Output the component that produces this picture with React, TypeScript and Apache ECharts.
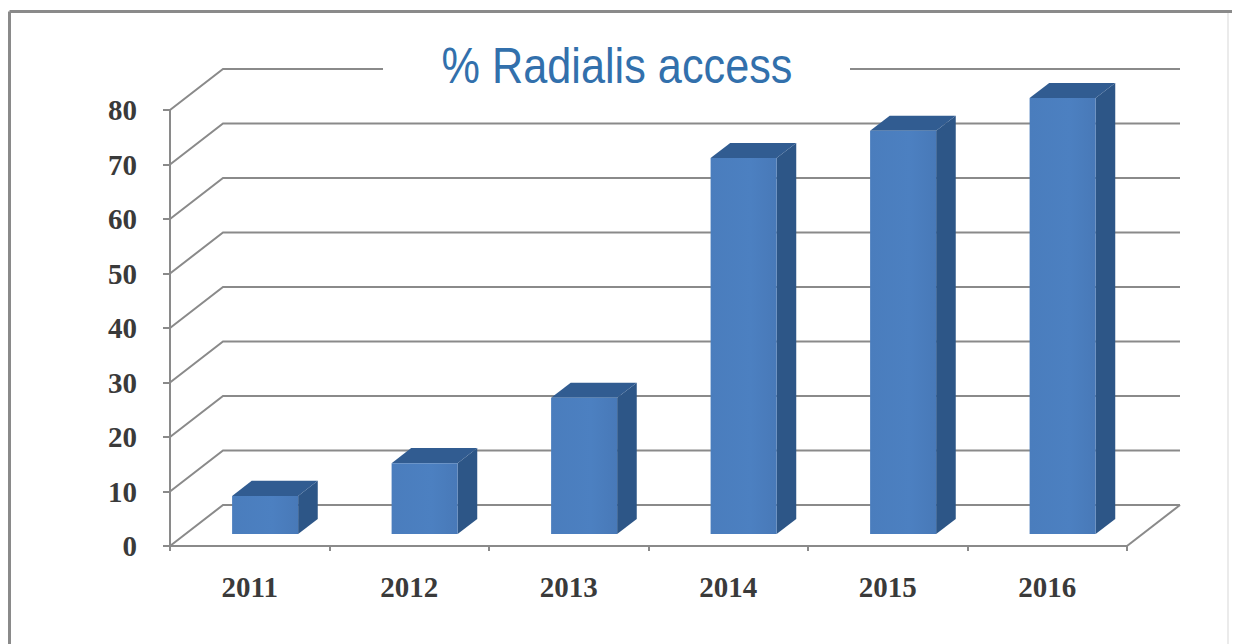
import React, { useEffect, useRef } from "react";
import * as echarts from "echarts";

const categories = ["2011", "2012", "2013", "2014", "2015", "2016"];
const values = [7, 13, 25, 69, 74, 80];
const yTicks = [0, 10, 20, 30, 40, 50, 60, 70, 80];
const titleText = "% Radialis access";

export default function App() {
  const ref = useRef<HTMLDivElement>(null);
  useEffect(() => {
    const chart = echarts.init(ref.current!, null, { renderer: "svg" });
    const DX = 53;
    const DY = 41;
    const F1 = 0.29;
    const F2 = 0.66;
    const barFrac = 0.414;
    const gridColor = "#8a8a8a";
    const labelStyle = {
      fontFamily: "'Liberation Serif', 'Times New Roman', serif",
      fontWeight: "bold",
      fontSize: 29,
      color: "#3a3a3a",
    };
    const option: any = {
      animation: false,
      backgroundColor: "#ffffff",
      graphic: [
        {
          type: "rect",
          shape: { x: 383, y: 44, width: 467, height: 46 },
          style: { fill: "#ffffff" },
          z: 10,
        },
        {
          type: "text",
          x: 617,
          y: 66,
          scaleX: 0.865,
          z: 11,
          style: {
            text: titleText,
            fontFamily: "'Liberation Sans', Arial, sans-serif",
            fontSize: 50,
            fill: "#3270ac",
            textAlign: "center",
            textVerticalAlign: "middle",
          },
        },
        {
          type: "line",
          shape: { x1: 9.5, y1: 11.5, x2: 1232, y2: 11.5 },
          style: { stroke: "#8a8a8a", lineWidth: 3 },
          z: 20,
        },
        {
          type: "line",
          shape: { x1: 9.5, y1: 11.5, x2: 9.5, y2: 644 },
          style: { stroke: "#8a8a8a", lineWidth: 3 },
          z: 20,
        },
        {
          type: "line",
          shape: { x1: 1228, y1: 13, x2: 1228, y2: 644 },
          style: { stroke: "#e4e4e4", lineWidth: 1.5 },
          z: 20,
        },
      ],
      grid: { left: 170, right: 109, top: 110, bottom: 98, containLabel: false },
      xAxis: {
        type: "category",
        data: categories,
        boundaryGap: true,
        axisLine: { show: true, lineStyle: { color: gridColor, width: 2 } },
        axisTick: { show: true, length: 5, lineStyle: { color: gridColor, width: 2 } },
        axisLabel: { ...labelStyle, margin: 26 },
        splitLine: { show: false },
        z: 5,
      },
      yAxis: {
        type: "value",
        min: 0,
        max: 80,
        interval: 10,
        axisLine: { show: true, lineStyle: { color: gridColor, width: 2 } },
        axisTick: { show: true, length: 7, lineStyle: { color: gridColor, width: 2 } },
        axisLabel: { ...labelStyle, margin: 33 },
        splitLine: { show: false },
        z: 5,
      },
      series: [
        {
          type: "custom",
          z: 1,
          silent: true,
          data: yTicks.map((v) => [0, v]),
          renderItem: (params: any, api: any) => {
            const v = api.value(1);
            const p = api.coord([0, v]);
            const bw = api.size([1, 0])[0];
            const x0 = p[0] - bw / 2;
            const y = p[1];
            const frontRight = params.coordSys.x + params.coordSys.width;
            const right = frontRight + DX;
            const children: any[] = [
              {
                type: "polyline",
                shape: { points: [[x0, y], [x0 + DX, y - DY], [right, y - DY]] },
                style: { stroke: gridColor, lineWidth: 2, fill: null },
              },
            ];
            if (v === 0) {
              children.push({
                type: "line",
                shape: { x1: frontRight, y1: y, x2: right, y2: y - DY },
                style: { stroke: gridColor, lineWidth: 2 },
              });
            }
            return { type: "group", children };
          },
        },
        {
          type: "custom",
          z: 3,
          data: values.map((v, i) => [i, v]),
          renderItem: (params: any, api: any) => {
            const i = api.value(0);
            const v = api.value(1);
            const base = api.coord([i, 0]);
            const top = api.coord([i, v]);
            const bw = api.size([1, 0])[0];
            const w = bw * barFrac;
            const xL = base[0] - w / 2 + F1 * DX;
            const xR = xL + w;
            const yB = base[1] - F1 * DY;
            const yT = top[1] - F1 * DY;
            const ddx = (F2 - F1) * DX;
            const ddy = (F2 - F1) * DY;
            return {
              type: "group",
              children: [
                {
                  type: "polygon",
                  shape: { points: [[xR, yB], [xR, yT], [xR + ddx, yT - ddy], [xR + ddx, yB - ddy]] },
                  style: { fill: "#2d5687" },
                },
                {
                  type: "polygon",
                  shape: { points: [[xL, yT], [xL + ddx, yT - ddy], [xR + ddx, yT - ddy], [xR, yT]] },
                  style: { fill: "#315c91" },
                },
                {
                  type: "rect",
                  shape: { x: xL, y: yT, width: w, height: yB - yT },
                  style: {
                    fill: new echarts.graphic.LinearGradient(0, 0, 1, 0, [
                      { offset: 0, color: "#4a7dbd" },
                      { offset: 0.6, color: "#4c80c1" },
                      { offset: 1, color: "#4879b8" },
                    ]),
                  },
                },
              ],
            };
          },
        },
      ],
    };
    chart.setOption(option);
    return () => chart.dispose();
  }, []);
  return (
    <div
      ref={ref}
      style={{ position: "absolute", left: 0, top: 0, width: 1236, height: 644 }}
    />
  );
}
